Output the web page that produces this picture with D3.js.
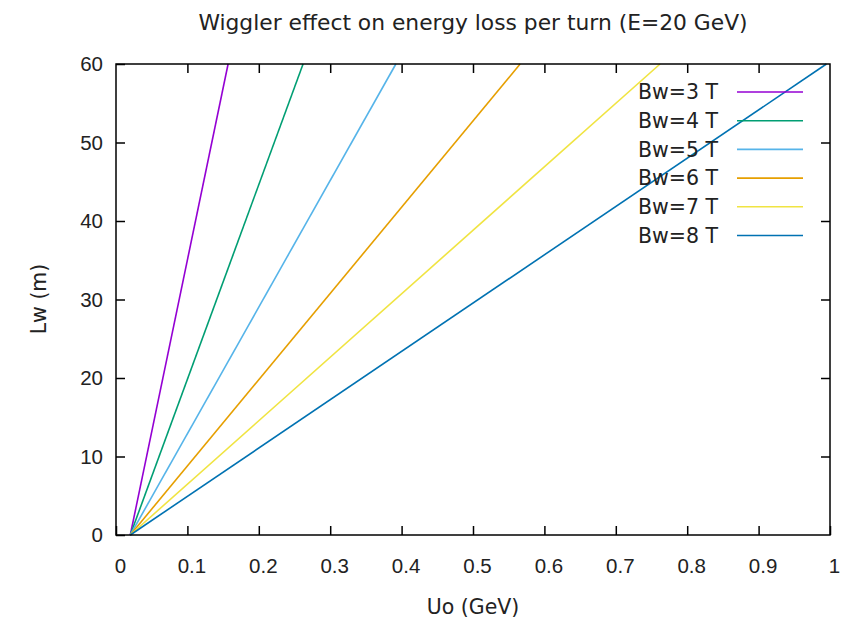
<!DOCTYPE html>
<html>
<head>
<meta charset="utf-8">
<script src="https://cdn.jsdelivr.net/npm/d3@7"></script>
<style>
  body { margin: 0; background: #fff; }
  svg { display: block; font-family: "DejaVu Sans", Verdana, sans-serif; }
</style>
</head>
<body>
<div id="chart"></div>
<script>
// wiggler field strengths and their lines (Lw from 0 to 60 m)
var fields = ["Bw=3 T", "Bw=4 T", "Bw=5 T", "Bw=6 T", "Bw=7 T", "Bw=8 T"];
var colors = ["#9400d3", "#009e73", "#56b4e9", "#e69f00", "#f0e442", "#0072b2"];
var lwValues = [0, 60];
var uoBw3 = [0.02, 0.157];
var uoBw4 = [0.02, 0.262];
var uoBw5 = [0.02, 0.392];
var uoBw6 = [0.02, 0.566];
var uoBw7 = [0.02, 0.762];
var uoBw8 = [0.02, 0.995];
var xTicks = [0, 0.1, 0.2, 0.3, 0.4, 0.5, 0.6, 0.7, 0.8, 0.9, 1];
var yTicks = [0, 10, 20, 30, 40, 50, 60];

var series = [uoBw3, uoBw4, uoBw5, uoBw6, uoBw7, uoBw8].map(function (uo, i) {
    return {
        name: fields[i],
        color: colors[i],
        points: uo.map(function (u, j) { return { x: u, y: lwValues[j] }; })
    };
});

var width = 856, height = 624;
var margin = { top: 64, right: 26, bottom: 89, left: 116 };
var w = width - margin.left - margin.right;
var h = height - margin.top - margin.bottom;
var fontSize = "20.5px";

var svg = d3.select("#chart").append("svg")
    .attr("width", width)
    .attr("height", height);

var x = d3.scaleLinear().domain([0, 1]).range([0, w]);
var y = d3.scaleLinear().domain([0, 60]).range([h, 0]);

var g = svg.append("g").attr("transform", "translate(" + margin.left + "," + margin.top + ")");

// lines
var line = d3.line().x(function (d) { return x(d.x); }).y(function (d) { return y(d.y); });
g.append("g").selectAll("path")
    .data(series)
    .enter().append("path")
    .attr("d", function (d) { return line(d.points); })
    .attr("fill", "none")
    .attr("stroke", function (d) { return d.color; })
    .attr("stroke-width", 1.6);

// axes - gnuplot style, inward ticks mirrored on all sides
var tickLen = 9;
function styleAxis(sel) {
    sel.select(".domain").remove();
    sel.selectAll("line").attr("stroke", "#000").attr("stroke-width", 1.5);
    sel.selectAll("text").attr("fill", "#222").attr("font-size", fontSize);
}

g.append("g")
    .attr("transform", "translate(0," + h + ")")
    .call(d3.axisBottom(x).tickValues(xTicks).tickFormat(d3.format("")).tickSizeInner(-tickLen).tickPadding(23))
    .call(styleAxis)
    .selectAll("text").attr("dx", 4);

g.append("g")
    .call(d3.axisTop(x).tickValues(xTicks.slice(1, -1)).tickFormat("").tickSizeInner(-tickLen))
    .call(styleAxis);

g.append("g")
    .call(d3.axisLeft(y).tickValues(yTicks).tickFormat(d3.format("d")).tickSizeInner(-tickLen).tickPadding(13))
    .call(styleAxis);

g.append("g")
    .attr("transform", "translate(" + w + ",0)")
    .call(d3.axisRight(y).tickValues(yTicks.slice(1, -1)).tickFormat("").tickSizeInner(-tickLen))
    .call(styleAxis);

g.append("rect")
    .attr("width", w).attr("height", h)
    .attr("fill", "none")
    .attr("stroke", "#000")
    .attr("stroke-width", 1.5);

// legend
var legend = g.append("g").attr("transform", "translate(" + (718 - margin.left) + "," + (92 - margin.top) + ")");
var row = legend.selectAll("g")
    .data(series)
    .enter().append("g")
    .attr("transform", function (d, i) { return "translate(0," + (i * 28.7) + ")"; });

row.append("text")
    .attr("text-anchor", "end")
    .attr("dy", "0.35em")
    .attr("font-size", fontSize)
    .attr("fill", "#222")
    .text(function (d) { return d.name; });

row.append("line")
    .attr("x1", 19).attr("x2", 85)
    .attr("stroke", function (d) { return d.color; })
    .attr("stroke-width", 1.6);

// titles
svg.append("text")
    .attr("x", margin.left + w / 2)
    .attr("y", 30)
    .attr("text-anchor", "middle")
    .attr("font-size", "21.8px")
    .attr("fill", "#222")
    .text("Wiggler effect on energy loss per turn (E=20 GeV)");

svg.append("text")
    .attr("x", margin.left + w / 2)
    .attr("y", 614)
    .attr("text-anchor", "middle")
    .attr("font-size", fontSize)
    .attr("fill", "#222")
    .text("Uo (GeV)");

svg.append("text")
    .attr("transform", "translate(46," + 299 + ") rotate(-90)")
    .attr("text-anchor", "middle")
    .attr("font-size", fontSize)
    .attr("fill", "#222")
    .text("Lw (m)");
</script>
</body>
</html>
